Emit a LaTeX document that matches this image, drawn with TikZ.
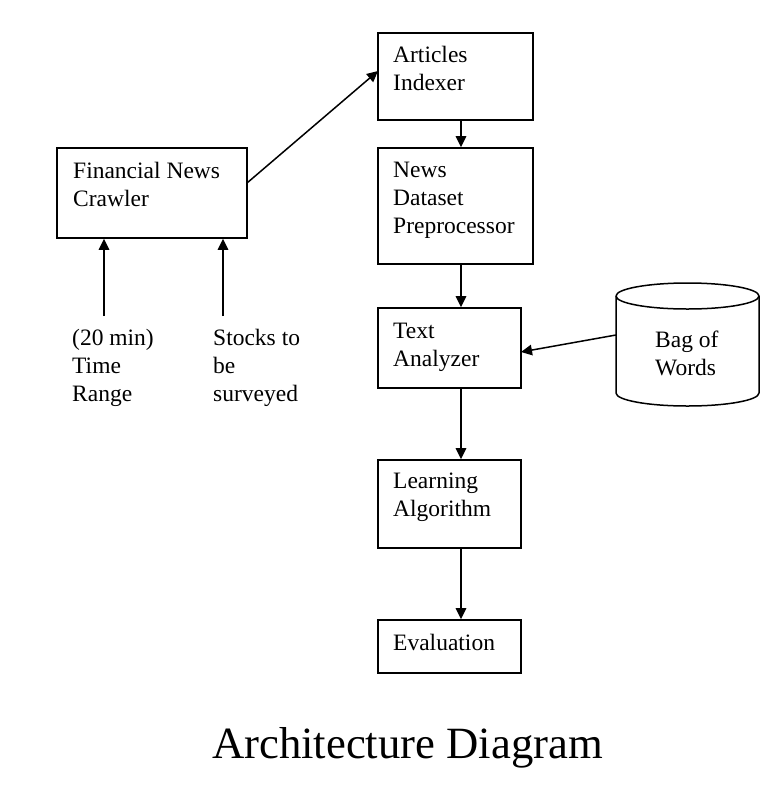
\documentclass[tikz,border=0pt]{standalone}
\usepackage{fontspec}
\setmainfont{Liberation Serif}
\usetikzlibrary{arrows.meta}
\begin{document}
\begin{tikzpicture}[x=1pt,y=-1pt,
  box/.style={draw,line width=1.6pt,rectangle,inner sep=0pt},
  txt/.style={anchor=base west,inner sep=0pt,font=\fontsize{23.5}{28}\selectfont},
  arr/.style={line width=1.5pt,-{Triangle[length=11pt,width=10.5pt]}},
  cyl/.style={draw,line width=1.5pt}]
\useasboundingbox (0,0) rectangle (780,796);
% boxes
\node[box,minimum width=190,minimum height=90] (fc) at (152,193) {};
\node[box,minimum width=155,minimum height=87] (ai) at (455.5,76.5) {};
\node[box,minimum width=155,minimum height=116] (nd) at (455.5,206) {};
\node[box,minimum width=143,minimum height=80] (ta) at (449.5,348) {};
\node[box,minimum width=143,minimum height=88] (la) at (449.5,504) {};
\node[box,minimum width=143,minimum height=53] (ev) at (449.5,646.5) {};
% texts
\node[txt] (fct) at (73,178) {\parbox[t]{200pt}{Financial News\\Crawler}};
\node[txt] (ait) at (393,62) {\parbox[t]{200pt}{Articles\\Indexer}};
\node[txt] (ndt) at (393,177) {\parbox[t]{200pt}{News\\Dataset\\Preprocessor}};
\node[txt] (tat) at (393,338) {\parbox[t]{200pt}{Text\\Analyzer}};
\node[txt] (lat) at (393,488) {\parbox[t]{200pt}{Learning\\Algorithm}};
\node[txt] (evt) at (393,650) {Evaluation};
\node[txt] (tr) at (72,345) {\parbox[t]{200pt}{(20 min)\\Time\\Range}};
\node[txt] (st) at (213,345) {\parbox[t]{200pt}{Stocks to\\be\\surveyed}};
% cylinder
\draw[cyl] (616,296) arc[start angle=180,end angle=-180,x radius=71.5,y radius=13];
\draw[cyl] (616,296) -- (616,393) arc[start angle=180,end angle=360,x radius=71.5,y radius=-13] -- (759,296);
\node[txt] (bow) at (655,347) {\parbox[t]{200pt}{Bag of\\Words}};
% caption
\node[anchor=base,inner sep=0pt,font=\fontsize{44.7}{50}\selectfont] (cap) at (407.5,758) {Architecture Diagram};
% connector endpoints
\coordinate (in1) at (104,316);
\coordinate (in2) at (223,316);
\coordinate (fcout) at (247,183);
\coordinate (aiin) at (378,71);
\coordinate (bowout) at (616,335);
\coordinate (tain) at (521,352);
% connectors
\draw[arr] (in1) -- (in1 |- fc.south);
\draw[arr] (in2) -- (in2 |- fc.south);
\draw[arr] (fcout) -- (aiin);
\draw[arr] (ai.south -| 461,0) -- (nd.north -| 461,0);
\draw[arr] (nd.south -| 461,0) -- (ta.north -| 461,0);
\draw[arr] (ta.south -| 461,0) -- (la.north -| 461,0);
\draw[arr] (la.south -| 461,0) -- (ev.north -| 461,0);
\draw[arr] (bowout) -- (tain);
\end{tikzpicture}
\end{document}
